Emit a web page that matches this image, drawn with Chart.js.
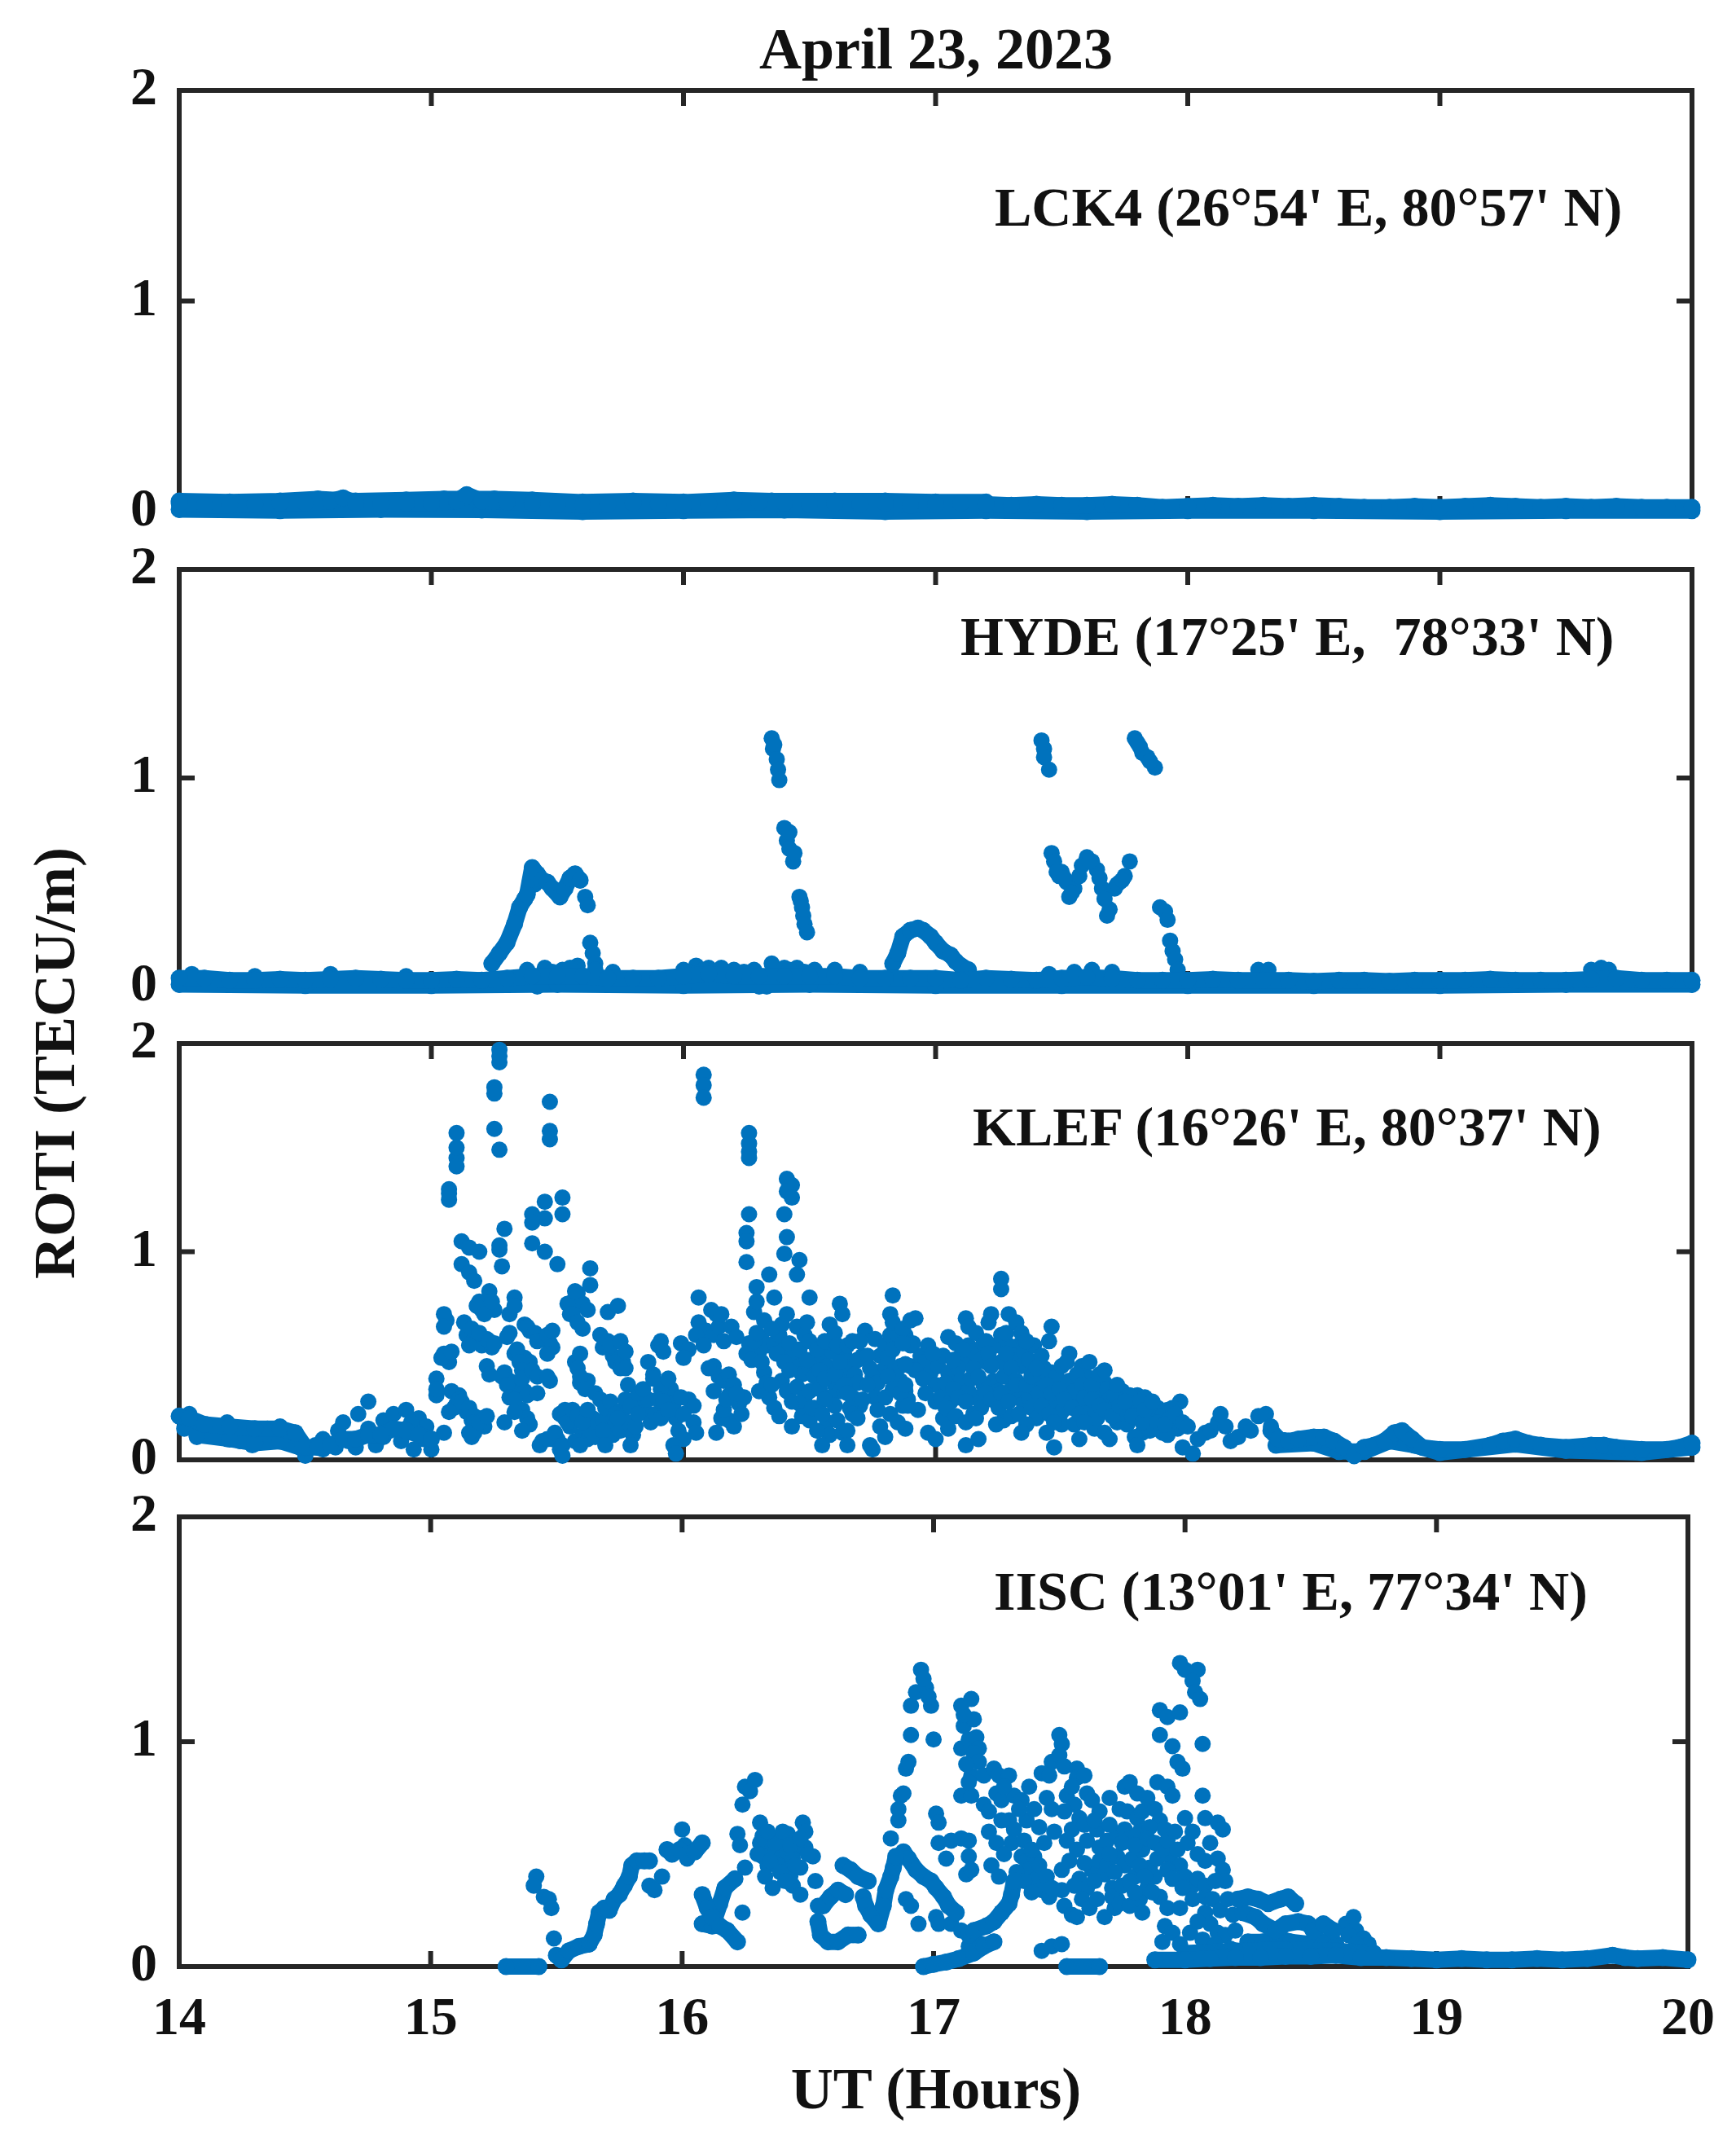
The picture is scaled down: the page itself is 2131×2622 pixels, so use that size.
<!DOCTYPE html>
<html>
<head>
<meta charset="utf-8">
<script src="https://cdn.jsdelivr.net/npm/chart.js@4.4.0/dist/chart.umd.min.js"></script>
<style>
  body { margin: 0; background: #fff; }
  #wrap { position: relative; width: 2131px; height: 2622px; overflow: hidden; }
  #wrap canvas { position: absolute; left: 0; top: 0; }
  .txt { position: absolute; font-family: "Liberation Serif", "Times New Roman", serif; font-weight: bold; color: #111; white-space: pre; }
  #title { left: 649px; top: 24px; width: 1000px; text-align: center; font-size: 72px; line-height: 72px; }
  #xlab { left: 649px; top: 2528px; width: 1000px; text-align: center; font-size: 72px; line-height: 72px; }
  #ylab { left: -333px; top: 1269px; width: 800px; text-align: center; font-size: 72px; line-height: 72px; transform: rotate(-90deg); }
  .st { font-size: 68px; line-height: 68px; }
</style>
</head>
<body>
<div id="wrap">
  <canvas id="p1" width="2131" height="2622"></canvas>
  <canvas id="p2" width="2131" height="2622"></canvas>
  <canvas id="p3" width="2131" height="2622"></canvas>
  <canvas id="p4" width="2131" height="2622"></canvas>
  <div class="txt" id="title">April 23, 2023</div>
  <div class="txt" id="xlab">UT (Hours)</div>
  <div class="txt" id="ylab">ROTI (TECU/m)</div>
  <div class="txt st" style="left:1221px; top:220px;">LCK4 (26°54' E, 80°57' N)</div>
  <div class="txt st" style="left:1179px; top:747px;">HYDE (17°25' E,  78°33' N)</div>
  <div class="txt st" style="left:1194px; top:1349px;">KLEF (16°26' E, 80°37' N)</div>
  <div class="txt st" style="left:1220px; top:1919px;">IISC (13°01' E, 77°34' N)</div>
</div>
<script>
const BLUE = '#0072BD';
const AXIS = '#262626';
const xTicks = [14, 15, 16, 17, 18, 19, 20];
const yTicks = [0, 1, 2];

// ---- LCK4: quiet trace near zero ----
const lckBase = [[14.0,0.04],[14.1,0.03],[14.2,0.03],[14.3,0.035],[14.4,0.04],[14.5,0.04],[14.6,0.05],[14.65,0.065],
  [14.7,0.04],[14.8,0.035],[14.9,0.04],[15.0,0.04],[15.1,0.05],[15.14,0.08],[15.2,0.05],[15.3,0.045],[15.4,0.04],
  [15.5,0.035],[15.6,0.03],[15.7,0.035],[15.8,0.04],[15.9,0.035],[16.0,0.03],[16.1,0.035],[16.2,0.045],[16.3,0.045],
  [16.4,0.04],[16.5,0.035],[16.6,0.04],[16.7,0.035],[16.8,0.04],[16.9,0.03],[17.0,0.035],[17.1,0.04],[17.2,0.035],
  [17.3,0.03],[17.4,0.035],[17.5,0.03],[17.6,0.03],[17.7,0.035],[17.8,0.03],[17.9,0.02],[18.0,0.025],[18.1,0.03],
  [18.2,0.025],[18.3,0.03],[18.4,0.025],[18.5,0.03],[18.6,0.025],[18.7,0.02],[18.8,0.02],[18.9,0.025],[19.0,0.02],
  [19.1,0.025],[19.2,0.03],[19.3,0.025],[19.4,0.02],[19.5,0.025],[19.6,0.02],[19.7,0.025],[19.8,0.02],[19.9,0.02],[20.0,0.02]];
const lckLow = [[14.0,0.01],[14.4,0.005],[14.8,0.01],[15.2,0.008],[15.6,0.0],[16.0,0.005],[16.4,0.008],[16.8,0.0],
  [17.2,0.005],[17.6,0.0],[18.0,0.005],[18.5,0.005],[19.0,0.0],[19.5,0.005],[20.0,0.005]];
const lckHigh = [[14.0,0.05],[14.2,0.045],[14.4,0.05],[14.55,0.06],[14.7,0.05],[14.9,0.055],[15.05,0.06],[15.25,0.06],
  [15.4,0.055],[15.6,0.045],[15.8,0.05],[16.0,0.045],[16.2,0.055],[16.35,0.05],[16.6,0.05],[16.8,0.05],[17.0,0.045],
  [17.2,0.045]];

// ---- HYDE ----
const hydeBase = [[14.0,0.04],[14.1,0.04],[14.2,0.03],[14.3,0.03],[14.4,0.035],[14.5,0.03],[14.6,0.035],[14.7,0.04],
  [14.8,0.035],[14.9,0.03],[15.0,0.03],[15.1,0.035],[15.2,0.03],[15.3,0.04],[15.4,0.05],[15.5,0.05],[15.6,0.05],
  [15.7,0.04],[15.8,0.04],[15.9,0.04],[16.0,0.05],[16.1,0.06],[16.2,0.05],[16.3,0.05],[16.4,0.05],[16.5,0.05],
  [16.6,0.05],[16.7,0.04],[16.8,0.04],[16.9,0.04],[17.0,0.04],[17.1,0.03],[17.2,0.04],[17.3,0.035],[17.4,0.03],
  [17.5,0.04],[17.6,0.045],[17.7,0.04],[17.8,0.03],[17.9,0.03],[18.0,0.03],[18.1,0.035],[18.2,0.03],[18.3,0.03],
  [18.4,0.03],[18.5,0.025],[18.6,0.03],[18.7,0.03],[18.8,0.025],[18.9,0.03],[19.0,0.03],[19.1,0.03],[19.2,0.035],
  [19.3,0.03],[19.4,0.03],[19.5,0.03],[19.6,0.035],[19.7,0.04],[19.8,0.03],[19.9,0.03],[20.0,0.03]];
const hydeLow = [[14.0,0.01],[14.5,0.005],[15.0,0.005],[15.5,0.01],[16.0,0.005],[16.5,0.01],[17.0,0.005],[17.5,0.005],
  [18.0,0.005],[18.5,0.005],[19.0,0.005],[19.5,0.01],[20.0,0.01]];
const hydeUpper = [[14.05,0.06],[14.3,0.05],[14.6,0.06],[14.9,0.05],[15.38,0.08],[15.45,0.09],[15.52,0.08],[15.58,0.1],
  [15.65,0.08],[15.72,0.07],[16.0,0.08],[16.05,0.1],[16.1,0.09],[16.15,0.09],[16.2,0.08],[16.28,0.08],[16.35,0.11],
  [16.4,0.09],[16.45,0.09],[16.52,0.08],[16.6,0.08],[16.7,0.07],[17.45,0.06],[17.55,0.07],[17.62,0.08],[17.7,0.07],
  [18.28,0.08],[18.32,0.08],[19.6,0.08],[19.64,0.09],[19.67,0.08],[16.3,0.0],[16.33,0.0],[15.42,0.0],
  [15.48,0.07],[15.55,0.09],[16.02,0.07],[16.08,0.08],[16.24,0.07],[16.42,0.08],[16.48,0.07]];
const hydeHump1Line = [[15.24,0.11],[15.27,0.16],[15.3,0.21],[15.33,0.3],[15.35,0.38],[15.37,0.42],[15.38,0.44],[15.4,0.57],
  [15.42,0.54],[15.44,0.51],[15.46,0.5],[15.48,0.47],[15.51,0.43],[15.53,0.47],[15.55,0.52],[15.57,0.54],[15.59,0.51]];
const hydeHump1 = [[15.61,0.43],[15.62,0.39],[15.63,0.21],[15.64,0.16],[15.65,0.11],[15.39,0.5],[15.41,0.49]];
const hydeSpike1 = [[16.35,1.19],[16.355,1.14],[16.36,1.16],[16.37,1.09],[16.375,1.04],[16.38,0.99],[16.4,0.76],
  [16.41,0.7],[16.42,0.74],[16.42,0.66],[16.435,0.6],[16.44,0.64],[16.46,0.43],[16.465,0.41],[16.47,0.38],
  [16.475,0.34],[16.48,0.3],[16.49,0.26]];
const hydeHump2 = [[16.83,0.11],[16.85,0.16],[16.87,0.24],[16.9,0.27],[16.93,0.28],[16.95,0.27],[16.98,0.24],[17.0,0.21],
  [17.03,0.17],[17.06,0.15],[17.08,0.12],[17.1,0.1],[17.13,0.08]];
const hydeSpike2 = [[17.42,1.18],[17.43,1.14],[17.43,1.1],[17.45,1.04],[17.46,0.64],[17.47,0.6],[17.49,0.53],[17.5,0.55],
  [17.52,0.5],[17.53,0.43],[17.55,0.47],[17.57,0.53],[17.6,0.62],[17.62,0.6],[17.64,0.56],[17.66,0.47],[17.68,0.34],
  [17.69,0.37],[17.71,0.47],[17.73,0.5],[17.75,0.53],[17.77,0.6],[17.79,1.19],[17.81,1.15],[17.82,1.12],[17.84,1.1],
  [17.87,1.05],[17.89,0.38],[17.91,0.36],[17.92,0.32],[17.93,0.22],[17.94,0.17],[17.95,0.13],[17.96,0.08],
  [17.48,0.55],[17.51,0.52],[17.54,0.45],[17.58,0.58],[17.61,0.6],[17.65,0.52],[17.67,0.42],[17.72,0.49],[17.74,0.51],
  [17.8,1.17],[17.85,1.08]];

// ---- KLEF ----
const klefEarlyTop = [[14.0,0.21],[14.04,0.2],[14.1,0.17],[14.2,0.16],[14.3,0.15],[14.4,0.15],[14.46,0.13],[14.5,0.06],
  [14.55,0.06],[14.6,0.07],[14.65,0.1],[14.7,0.1],[14.75,0.12],[14.8,0.12],[14.85,0.15],[14.9,0.14],[14.95,0.12],[15.0,0.1]];
const klefEarlyLow = [[14.07,0.12],[14.2,0.1],[14.3,0.08],[14.4,0.09],[14.48,0.06]];
const klefEarly = [[14.0,0.21],[14.04,0.22],[14.07,0.18],[14.07,0.11],[14.11,0.17],[14.14,0.15],[14.19,0.18],[14.19,0.1],
  [14.24,0.15],[14.24,0.09],[14.29,0.15],[14.29,0.07],[14.35,0.15],[14.35,0.09],[14.4,0.16],[14.4,0.09],[14.46,0.13],
  [14.49,0.07],[14.5,0.02],[14.54,0.07],[14.57,0.05],[14.57,0.1],[14.62,0.06],[14.63,0.14],[14.65,0.18],[14.67,0.09],
  [14.7,0.06],[14.71,0.22],[14.75,0.28],[14.75,0.15],[14.78,0.07],[14.81,0.19],[14.81,0.11],[14.85,0.22],[14.9,0.24],
  [14.9,0.15],[14.93,0.05],[14.95,0.2],[14.98,0.16],[15.0,0.05],[15.05,0.13],[14.88,0.09],[14.92,0.18],[14.97,0.1],
  [14.02,0.15],[14.13,0.12],[14.32,0.12]];
const klefSpikes = [[15.27,1.97],[15.27,1.91],[15.25,1.79],[15.25,1.76],[15.25,1.59],[15.27,1.49],[15.1,1.57],[15.1,1.45],
  [15.1,1.41],[15.07,1.3],[15.07,1.25],[15.47,1.72],[15.47,1.58],[15.47,1.54],[16.08,1.85],[16.08,1.8],[16.08,1.74],
  [16.26,1.57],[16.26,1.48],[16.26,1.45],[16.41,1.35],[16.43,1.32],[16.41,1.29],[16.43,1.26],[16.4,1.18],[16.26,1.18],
  [16.25,1.09],[16.25,1.05],[16.25,0.95],[16.41,1.07],[16.4,0.99],[16.46,0.96],[16.45,0.89],[16.34,0.89],[15.52,1.26],
  [15.52,1.18],[15.45,1.24],[15.4,1.18],[15.45,1.16],[15.4,1.14],[15.29,1.11],[15.27,1.03],[15.27,1.01],[15.28,0.93],
  [15.4,1.04],[15.45,1.0],[15.5,0.94],[15.12,1.05],[15.15,1.02],[15.12,0.94],[15.15,0.9],[15.17,0.86],[15.19,1.0],
  [15.63,0.92],[15.63,0.84],[15.57,0.81],[17.26,0.87],[17.26,0.82],[15.1,1.5],[15.07,1.28],[15.27,1.94],[16.26,1.52]];
const klefCloudA = [[15.02,0.39],[15.02,0.34],[15.04,0.49],[15.05,0.51],[15.05,0.7],[15.05,0.64],[15.08,0.52],[15.08,0.33],
  [15.07,0.23],[15.09,0.25],[15.11,0.29],[15.13,0.66],[15.16,0.63],[15.15,0.55],[15.12,0.28],[15.15,0.25],[15.17,0.21],
  [15.17,0.18],[15.15,0.13],[15.19,0.18],[15.22,0.21],[15.18,0.74],[15.21,0.7],[15.19,0.61],[15.22,0.45],[15.23,0.41],
  [15.23,0.81],[15.24,0.76],[15.23,0.57],[15.25,0.56],[15.28,0.4],[15.3,0.36],[15.31,0.3],[15.29,0.18],[15.31,0.7],
  [15.31,0.61],[15.3,0.59],[15.33,0.78],[15.33,0.74],[15.34,0.53],[15.35,0.47],[15.36,0.43],[15.36,0.39],[15.33,0.29],
  [15.33,0.23],[15.36,0.14],[15.38,0.64],[15.41,0.61],[15.42,0.57],[15.4,0.43],[15.42,0.4],[15.42,0.32],[15.46,0.6],
  [15.48,0.62],[15.46,0.51],[15.46,0.4],[15.43,0.07],[15.46,0.1],[15.49,0.13],[15.52,0.07],[15.52,0.02],[15.53,0.24],
  [15.54,0.18],[15.54,0.75],[15.55,0.7],[15.56,0.7],[15.58,0.66],[15.6,0.63],[15.59,0.51],[15.58,0.44],[15.59,0.4],
  [15.61,0.34],[15.56,0.24],[15.58,0.21],[15.6,0.18],[15.62,0.24],[15.57,0.09],[15.59,0.07],[15.62,0.72],[15.65,0.32],
  [15.67,0.29],[15.69,0.25],[15.71,0.28],[15.65,0.11],[15.68,0.14],[15.69,0.07],[15.67,0.6],[15.7,0.57],[15.71,0.55],
  [15.7,0.71],[15.74,0.74],[15.73,0.22],[15.74,0.2],[15.75,0.57],[15.77,0.52],[15.77,0.44],[15.79,0.07],[15.77,0.29],
  [15.79,0.26],[15.82,0.32],[15.78,0.36],[15.82,0.22],[15.84,0.34],[15.86,0.47],[15.88,0.41],[15.9,0.55],[15.91,0.57],
  [15.92,0.52],[15.88,0.39],[15.91,0.34],[15.94,0.39],[15.9,0.29],[15.92,0.28],[15.91,0.2],[15.94,0.24],[15.96,0.07],
  [15.97,0.03]];
const klefFillA = [[15.06,0.67],[15.06,0.49],[15.07,0.47],[15.02,0.31],[15.1,0.27],[15.11,0.31],[15.14,0.23],[15.16,0.19],
  [15.2,0.2],[15.21,0.16],[15.16,0.11],[15.17,0.13],[15.14,0.6],[15.17,0.58],[15.2,0.55],[15.22,0.58],[15.24,0.54],
  [15.19,0.76],[15.2,0.72],[15.25,0.72],[15.29,0.42],[15.31,0.38],[15.34,0.35],[15.37,0.33],[15.38,0.31],[15.33,0.51],
  [15.37,0.49],[15.39,0.47],[15.37,0.65],[15.39,0.62],[15.44,0.59],[15.36,0.24],[15.38,0.2],[15.39,0.17],[15.47,0.56],
  [15.48,0.54],[15.47,0.38],[15.44,0.09],[15.48,0.1],[15.5,0.1],[15.51,0.05],[15.51,0.22],[15.53,0.2],[15.55,0.16],
  [15.6,0.12],[15.62,0.1],[15.63,0.14],[15.64,0.2],[15.66,0.17],[15.68,0.19],[15.7,0.15],[15.72,0.12],[15.73,0.17],
  [15.75,0.14],[15.76,0.24],[15.78,0.18],[15.8,0.12],[15.81,0.16],[15.83,0.27],[15.85,0.23],[15.86,0.29],[15.87,0.18],
  [15.89,0.22],[15.93,0.3],[15.95,0.34],[15.96,0.27],[15.97,0.2],[15.98,0.14],[16.0,0.22],[15.99,0.3],[16.0,0.1],
  [15.68,0.54],[15.72,0.5],[15.73,0.47],[15.75,0.44],[15.76,0.47],[15.57,0.47],[15.59,0.37],[15.62,0.38],[15.56,0.76],
  [15.58,0.8],[15.6,0.75]];
const klefCloudB = [[15.99,0.56],[16.02,0.53],[16.0,0.49],[16.02,0.29],[16.04,0.26],[16.04,0.18],[16.05,0.13],[16.06,0.78],
  [16.05,0.6],[16.08,0.55],[16.1,0.44],[16.11,0.72],[16.13,0.7],[16.15,0.7],[16.12,0.33],[16.13,0.13],[16.15,0.2],
  [16.16,0.24],[16.17,0.29],[16.19,0.64],[16.21,0.59],[16.18,0.41],[16.2,0.36],[16.21,0.32],[16.23,0.22],[16.25,0.51],
  [16.27,0.48],[16.28,0.57],[16.29,0.61],[16.28,0.71],[16.29,0.76],[16.29,0.83],[16.31,0.47],[16.3,0.33],[16.33,0.37],
  [16.35,0.36],[16.32,0.67],[16.35,0.63],[16.36,0.78],[16.38,0.21],[16.43,0.16],[16.37,0.51],[16.4,0.47],[16.42,0.56],
  [16.42,0.43],[16.41,0.7],[16.45,0.64],[16.48,0.6],[16.49,0.66],[16.5,0.78],[16.46,0.53],[16.49,0.48],[16.5,0.57],
  [16.53,0.53],[16.56,0.57],[16.58,0.65],[16.6,0.61],[16.61,0.55],[16.62,0.75],[16.63,0.7],[16.54,0.43],[16.56,0.39],
  [16.6,0.41],[16.62,0.47],[16.53,0.14],[16.55,0.07],[16.56,0.29],[16.55,0.22],[16.65,0.55],[16.67,0.57],[16.7,0.57],
  [16.64,0.36],[16.65,0.32],[16.66,0.25],[16.67,0.22],[16.65,0.14],[16.65,0.07],[16.69,0.2],[16.71,0.29],[16.73,0.36],
  [16.74,0.44],[16.74,0.07],[16.75,0.05],[16.83,0.79],[16.82,0.7],[16.83,0.66],[16.87,0.63],[16.9,0.67],[16.81,0.49],
  [16.83,0.53],[16.87,0.56],[16.81,0.4],[16.83,0.34],[16.86,0.32],[16.88,0.36],[16.82,0.22],[16.85,0.18],[16.89,0.26]];
const klefFillB = [[16.06,0.66],[16.09,0.62],[16.12,0.6],[16.14,0.64],[16.16,0.57],[16.12,0.45],[16.14,0.4],[16.16,0.38],
  [16.18,0.31],[16.22,0.27],[16.24,0.3],[16.18,0.19],[16.2,0.16],[16.26,0.56],[16.3,0.52],[16.31,0.58],[16.33,0.55],
  [16.36,0.56],[16.38,0.6],[16.39,0.65],[16.4,0.53],[16.44,0.5],[16.46,0.45],[16.47,0.41],[16.5,0.44],[16.52,0.4],
  [16.53,0.47],[16.55,0.5],[16.57,0.45],[16.59,0.52],[16.6,0.36],[16.62,0.33],[16.63,0.4],[16.64,0.5],[16.66,0.44],
  [16.68,0.41],[16.69,0.37],[16.46,0.27],[16.47,0.21],[16.5,0.19],[16.52,0.25],[16.57,0.18],[16.58,0.12],[16.71,0.5],
  [16.72,0.62],[16.76,0.58],[16.78,0.5],[16.79,0.43],[16.76,0.3],[16.77,0.24],[16.78,0.16],[16.8,0.11],[16.84,0.43],
  [16.86,0.45],[16.88,0.46],[16.9,0.55],[16.32,0.42],[16.34,0.3],[16.36,0.25],[16.39,0.38],[16.41,0.33],[16.43,0.28],
  [16.45,0.35],[16.48,0.3],[16.5,0.33],[16.51,0.25],[16.54,0.34],[16.58,0.3],[16.6,0.26],[16.61,0.19],[16.63,0.13],
  [16.67,0.3],[16.69,0.48],[16.7,0.26],[16.73,0.5],[16.75,0.4],[16.77,0.37],[16.8,0.3],[16.8,0.55],[16.82,0.6],
  [16.85,0.6],[16.86,0.38],[16.87,0.26],[16.88,0.15]];
const klefCloudC = [[16.92,0.68],[16.88,0.6],[16.91,0.56],[16.97,0.55],[16.99,0.51],[16.92,0.43],[16.95,0.39],[16.96,0.32],
  [16.93,0.24],[16.88,0.33],[16.89,0.29],[16.97,0.13],[17.0,0.1],[17.05,0.59],[17.08,0.56],[17.12,0.68],[17.13,0.64],
  [17.11,0.53],[17.07,0.48],[17.04,0.37],[17.07,0.34],[17.09,0.3],[17.12,0.28],[17.15,0.22],[17.04,0.25],[17.08,0.21],
  [17.12,0.18],[17.16,0.2],[17.12,0.07],[17.17,0.1],[17.16,0.61],[17.2,0.57],[17.21,0.51],[17.22,0.45],[17.22,0.7],
  [17.21,0.66],[17.15,0.44],[17.17,0.4],[17.2,0.32],[17.22,0.29],[17.25,0.25],[17.24,0.17],[17.28,0.61],[17.32,0.66],
  [17.34,0.61],[17.36,0.57],[17.28,0.51],[17.3,0.44],[17.32,0.38],[17.26,0.32],[17.29,0.28],[17.32,0.36],[17.36,0.36],
  [17.38,0.4],[17.4,0.44],[17.41,0.32],[17.33,0.22],[17.36,0.17],[17.34,0.13],[17.46,0.64],[17.45,0.57],[17.53,0.51],
  [17.52,0.47],[17.44,0.36],[17.46,0.32],[17.49,0.34],[17.51,0.29],[17.42,0.26],[17.45,0.22],[17.47,0.18],[17.44,0.13],
  [17.47,0.06],[17.54,0.25],[17.57,0.22],[17.59,0.18],[17.57,0.1],[17.59,0.3],[17.62,0.36],[17.65,0.41],[17.67,0.43],
  [17.62,0.29],[17.65,0.26],[17.67,0.24],[17.7,0.21],[17.67,0.13],[17.69,0.1],[17.73,0.26],[17.75,0.28],[17.78,0.21],
  [17.82,0.18],[17.83,0.24],[17.86,0.28],[17.79,0.11],[17.8,0.07],[17.88,0.18],[17.91,0.17],[17.94,0.25],[17.95,0.22],
  [17.98,0.18],[18.0,0.16],[17.98,0.06],[18.02,0.03],[18.04,0.1],[18.07,0.13],[18.09,0.14],[18.12,0.18],[18.13,0.22],
  [18.15,0.16],[18.17,0.09],[18.2,0.11],[18.23,0.16],[18.25,0.14],[18.28,0.21],[18.31,0.22],[18.33,0.16]];
const klefFillC = [[17.01,0.45],[17.03,0.5],[17.05,0.42],[17.09,0.44],[17.1,0.38],[17.13,0.33],[17.14,0.39],[17.18,0.48],
  [17.19,0.36],[17.02,0.3],[17.06,0.28],[17.24,0.55],[17.26,0.47],[17.27,0.4],[17.29,0.55],[17.31,0.5],[17.34,0.45],
  [17.35,0.52],[17.37,0.48],[17.39,0.55],[17.42,0.5],[17.43,0.44],[17.26,0.6],[17.29,0.7],[17.3,0.21],[17.38,0.25],
  [17.4,0.2],[17.48,0.4],[17.5,0.45],[17.5,0.23],[17.53,0.38],[17.55,0.33],[17.56,0.41],[17.58,0.36],[17.6,0.25],
  [17.61,0.47],[17.63,0.32],[17.64,0.2],[17.68,0.34],[17.69,0.29],[17.71,0.31],[17.72,0.36],[17.75,0.22],[17.77,0.31],
  [17.8,0.23],[17.81,0.28],[17.84,0.2],[17.85,0.14],[17.87,0.23],[17.9,0.21],[17.92,0.12],[17.93,0.2]];
const klefFillD = [[16.9,0.45],[16.94,0.5],[16.96,0.47],[16.98,0.42],[17.0,0.36],[17.0,0.28],[17.03,0.2],[17.05,0.15],
  [17.06,0.35],[17.08,0.4],[17.1,0.5],[17.12,0.47],[17.13,0.55],[17.15,0.52],[17.16,0.3],[17.18,0.25],[17.19,0.56],
  [17.2,0.47],[17.23,0.38],[17.25,0.33],[17.27,0.19],[17.28,0.45],[17.3,0.34],[17.33,0.3],[17.33,0.55],[17.35,0.27],
  [17.37,0.3],[17.39,0.35],[17.4,0.27],[17.42,0.39],[17.44,0.3],[17.46,0.42],[17.47,0.27],[17.49,0.22],[17.5,0.17],
  [17.52,0.35],[17.54,0.3],[17.55,0.17],[17.56,0.27],[17.58,0.45],[17.6,0.4],[17.62,0.22],[17.63,0.15],[17.66,0.33],
  [17.67,0.37],[17.7,0.27],[17.72,0.18],[17.74,0.33],[17.76,0.17],[17.78,0.26],[17.8,0.31],[17.82,0.13],[17.83,0.3],
  [17.86,0.2],[17.88,0.25],[17.9,0.13],[17.92,0.24],[17.96,0.15],[17.97,0.28]];
const klefTail = [[18.33,0.14],[18.36,0.1],[18.4,0.09],[18.44,0.1],[18.5,0.11],[18.54,0.11],[18.58,0.09],[18.62,0.06],[18.66,0.02],
  [18.7,0.06],[18.74,0.07],[18.78,0.09],[18.82,0.13],[18.85,0.14],[18.89,0.1],[18.93,0.06],[19.0,0.05],[19.1,0.05],
  [19.2,0.07],[19.25,0.09],[19.3,0.1],[19.35,0.08],[19.4,0.07],[19.5,0.06],[19.6,0.07],[19.65,0.07],[19.7,0.06],
  [19.8,0.05],[19.9,0.05],[19.95,0.06],[20.0,0.08]];
const klefTailLow = [[18.35,0.07],[18.5,0.08],[18.6,0.04],[18.7,0.04],[18.8,0.09],[18.9,0.07],[19.0,0.035],[19.3,0.075],
  [19.5,0.045],[19.8,0.035],[20.0,0.06]];

// ---- IISC ----
const iiscZeroA = [[15.3,0],[15.43,0]];
const iiscZeroB = [[17.53,0],[17.66,0]];
const iiscRise = [[16.96,0.0],[17.0,0.01],[17.05,0.02],[17.1,0.035],[17.16,0.06],[17.2,0.09],[17.24,0.11]];
const iiscArcs = [
  [[15.5,0.05],[15.52,0.03],[15.55,0.07],[15.59,0.09],[15.63,0.1],[15.65,0.14],[15.66,0.19],[15.67,0.24],[15.69,0.26],
   [15.71,0.25],[15.73,0.3],[15.75,0.32],[15.77,0.36],[15.79,0.4],[15.8,0.45],[15.82,0.47],[15.85,0.47],[15.87,0.47]],
  [[15.94,0.52],[15.96,0.5],[15.99,0.52],[16.02,0.5],[16.05,0.51],[16.08,0.55]],
  [[16.08,0.32],[16.1,0.26],[16.12,0.22],[16.15,0.18],[16.18,0.16],[16.22,0.11]],
  [[16.08,0.19],[16.12,0.18],[16.15,0.28],[16.17,0.35],[16.21,0.39]],
  [[16.54,0.2],[16.55,0.14],[16.58,0.11],[16.62,0.11],[16.66,0.14],[16.7,0.14]],
  [[16.72,0.31],[16.73,0.27],[16.75,0.23],[16.78,0.19],[16.8,0.27],[16.81,0.34],[16.83,0.4],[16.84,0.44],[16.85,0.49]],
  [[16.88,0.51],[16.9,0.48],[16.93,0.43],[16.96,0.4],[16.99,0.38],[17.01,0.35],[17.04,0.31],[17.06,0.27],[17.09,0.24]],
  [[16.64,0.45],[16.67,0.43],[16.7,0.4],[16.74,0.38]],
  [[16.56,0.27],[16.59,0.31],[16.62,0.34],[16.65,0.32]],
  [[17.14,0.14],[17.16,0.16],[17.21,0.18],[17.24,0.2],[17.27,0.24],[17.3,0.28],[17.31,0.32],[17.32,0.38]],
  [[18.21,0.3],[18.25,0.31],[18.29,0.3],[18.33,0.28],[18.38,0.3],[18.41,0.31],[18.44,0.28]],
  [[18.23,0.24],[18.28,0.22],[18.31,0.19],[18.36,0.16],[18.4,0.19],[18.45,0.2],[18.49,0.19],[18.51,0.16],[18.55,0.19],[18.59,0.16]],
  [[18.25,0.11],[18.31,0.11],[18.37,0.125],[18.42,0.11],[18.5,0.1],[18.55,0.11],[18.6,0.1]]
];
const iiscEarly = [[15.42,0.4],[15.41,0.36],[15.45,0.31],[15.47,0.3],[15.48,0.26],[15.49,0.125],
  [15.87,0.36],[15.89,0.34],[15.92,0.4],[16.0,0.61],[16.01,0.54],[16.02,0.48],
  [16.24,0.24],[16.22,0.59],[16.23,0.54],[16.25,0.44],[16.24,0.72],[16.25,0.8],[16.27,0.78],[16.29,0.83],
  [16.31,0.64],[16.31,0.55],[16.33,0.56],[16.36,0.53],[16.38,0.57],[16.42,0.59],[16.46,0.53],[16.48,0.64],[16.49,0.6],
  [16.32,0.49],[16.34,0.45],[16.37,0.51],[16.39,0.48],[16.42,0.51],[16.44,0.48],[16.47,0.44],[16.33,0.4],[16.36,0.35],
  [16.41,0.43],[16.44,0.36],[16.47,0.32],[16.49,0.53],[16.52,0.49],[16.53,0.38],[16.54,0.27],[16.68,0.14],
  [16.83,0.57],[16.35,0.58],[16.4,0.55],[16.45,0.56],[16.38,0.45],[16.43,0.4],[16.5,0.5],
  [16.3,0.5],[16.32,0.58],[16.35,0.47],[16.37,0.55],[16.39,0.42],[16.4,0.6],[16.43,0.54],[16.45,0.45],[16.47,0.57],
  [16.34,0.6],[16.41,0.38]];
const iiscMid = [[16.86,0.65],[16.86,0.7],[16.87,0.76],[16.88,0.77],[16.89,0.88],[16.9,0.91],[16.91,1.03],[16.91,1.16],
  [16.93,1.22],[16.95,1.32],[16.97,1.24],[16.99,1.16],[17.0,1.01],[17.01,0.68],[17.02,0.64],
  [16.89,0.3],[16.91,0.27],[16.94,0.19],[17.01,0.22],[17.02,0.19],[17.07,0.19],[17.11,0.16],[17.02,0.55],[17.05,0.48],
  [17.07,0.56],[17.11,0.57],[17.14,0.56],[17.11,1.16],[17.12,1.07],[17.11,0.97],[17.14,1.01],[17.15,0.85],[17.11,0.76],
  [17.15,0.76],[17.13,0.41],[17.15,1.19],[17.16,1.1],[17.17,1.02],[17.18,0.97],[17.16,0.95],[17.18,0.91],[17.2,0.85],
  [17.14,0.49],[17.15,0.43],[17.14,0.82],[17.24,0.88],[17.26,0.85],[17.3,0.85],[17.2,0.72],[17.22,0.69],[17.25,0.77],
  [17.27,0.74],[17.32,0.76],[17.35,0.74],[17.3,0.65],[17.32,0.61],[17.37,0.65],[17.31,0.55],[17.35,0.49],[17.37,0.47],
  [17.4,0.49],[17.38,0.43],[17.41,0.39],[17.43,0.34],[17.46,0.31],[17.19,0.1],[17.14,0.09],[17.43,0.07],[17.47,0.09],
  [17.51,0.1],[16.96,1.28],[16.98,1.2],[17.12,1.12],[17.13,0.9],[17.28,0.8],[17.34,0.7],[17.36,0.56],[17.39,0.52],
  [17.22,0.6],[17.25,0.55],[17.27,0.65],[17.23,0.45],[17.26,0.4],[17.28,0.5],[17.33,0.42],[17.36,0.38],[17.39,0.33],
  [17.42,0.45],[17.45,0.4],[17.47,0.35],[17.44,0.55],[17.48,0.6],[17.47,0.7],[17.45,0.75],[17.4,0.7],[17.38,0.8],
  [17.42,0.62]];
const iiscLate = [[17.5,1.03],[17.51,0.99],[17.47,0.91],[17.5,0.94],[17.43,0.86],[17.46,0.85],[17.52,0.89],[17.57,0.88],
  [17.57,0.84],[17.53,0.76],[17.56,0.72],[17.61,0.77],[17.63,0.74],[17.66,0.69],[17.65,0.61],[17.52,0.69],[17.55,0.61],
  [17.58,0.66],[17.53,0.56],[17.57,0.52],[17.61,0.56],[17.66,0.53],[17.69,0.56],[17.73,0.59],[17.51,0.43],[17.51,0.34],
  [17.52,0.27],[17.55,0.23],[17.57,0.22],[17.58,0.39],[17.61,0.35],[17.63,0.43],[17.66,0.47],[17.68,0.41],[17.71,0.35],
  [17.73,0.3],[17.72,0.26],[17.76,0.8],[17.78,0.82],[17.81,0.77],[17.74,0.7],[17.77,0.69],[17.81,0.66],[17.83,0.69],
  [17.88,0.7],[17.9,0.65],[17.76,0.61],[17.78,0.57],[17.82,0.6],[17.86,0.62],[17.92,0.61],[17.73,0.49],[17.76,0.45],
  [17.79,0.48],[17.83,0.52],[17.86,0.44],[17.89,0.48],[17.71,0.31],[17.74,0.28],[17.78,0.27],[17.82,0.3],[17.83,0.24],
  [17.89,0.82],[17.93,0.8],[17.95,0.76],[17.9,1.14],[17.93,1.11],[17.98,1.13],[17.9,1.03],[17.95,0.98],[17.97,0.91],
  [17.99,0.88],[17.98,1.35],[18.0,1.32],[18.05,1.32],[18.03,1.27],[18.04,1.22],[18.06,1.19],[18.07,0.99],[18.07,0.76],
  [18.0,0.66],[18.08,0.66],[18.13,0.64],[18.15,0.61],[17.94,0.49],[17.98,0.45],[18.0,0.4],[18.03,0.36],[18.05,0.39],
  [18.08,0.36],[17.93,0.43],[17.95,0.39],[17.99,0.35],[17.9,0.31],[17.93,0.26],[17.92,0.18],[17.91,0.11],[17.98,0.26],
  [18.03,0.3],[18.08,0.31],[18.08,0.47],[18.13,0.48],[18.15,0.43],[18.16,0.38],[18.08,0.24],[18.1,0.19],[18.13,0.15],
  [18.16,0.14],[18.2,0.16],[18.64,0.19],[18.67,0.22],[18.68,0.16],[18.71,0.125],[18.73,0.1],[18.65,0.14],[18.68,0.1],
  [17.6,0.63],[17.64,0.65],[17.7,0.63],[17.75,0.55],[17.8,0.54],[17.85,0.57],[17.6,0.46],[17.64,0.38],[17.69,0.45],
  [17.8,0.4],[17.85,0.35],[17.88,0.4],[17.55,0.8],[17.6,0.85],[17.7,0.75],[17.85,0.75],
  [17.54,0.47],[17.56,0.36],[17.59,0.3],[17.62,0.26],[17.65,0.3],[17.68,0.22],[17.7,0.5],[17.72,0.42],[17.75,0.36],
  [17.78,0.38],[17.8,0.33],[17.82,0.45],[17.84,0.4],[17.87,0.33],[17.88,0.55],[17.91,0.52],[17.93,0.56],[17.96,0.6],
  [17.97,0.52],[18.01,0.55],[18.03,0.6],[18.05,0.5],[18.1,0.55],[18.12,0.38],[18.11,0.3],[18.14,0.25],[18.17,0.3],
  [18.19,0.23],[17.95,0.15],[17.98,0.1],[18.02,0.15],[18.05,0.2],[18.07,0.12],[18.12,0.1],[18.18,0.08]];
const iiscBase = [[17.88,0.03],[18.0,0.03],[18.1,0.035],[18.2,0.04],[18.3,0.04],[18.4,0.045],[18.5,0.045],[18.6,0.05],
  [18.7,0.04],[18.8,0.04],[18.9,0.035],[19.0,0.03],[19.1,0.035],[19.2,0.03],[19.3,0.03],[19.4,0.035],[19.5,0.03],
  [19.6,0.035],[19.7,0.05],[19.75,0.04],[19.8,0.035],[19.9,0.04],[20.0,0.03]];
const iiscBaseHigh = [[18.0,0.06],[18.2,0.07],[18.4,0.075],[18.6,0.07],[18.75,0.06]];

const panels = [
  { id: 'p1', top: 111, bottom: 628, showX: false, dots: [], lines: [lckBase, lckLow, lckHigh] },
  { id: 'p2', top: 699, bottom: 1211, showX: false,
    dots: [hydeUpper, hydeHump1, hydeSpike1, hydeHump2, hydeSpike2], lines: [hydeBase, hydeLow, hydeHump1Line, hydeHump2] },
  { id: 'p3', top: 1281, bottom: 1792, showX: false,
    dots: [klefEarly, klefSpikes, klefCloudA, klefFillA, klefCloudB, klefFillB, klefCloudC, klefFillC, klefFillD],
    lines: [klefEarlyTop, klefEarlyLow, klefTail, klefTailLow] },
  { id: 'p4', top: 1862, bottom: 2414, showX: true,
    dots: [iiscEarly, iiscMid, iiscLate], lines: [iiscZeroA, iiscZeroB, iiscRise, iiscBase, iiscBaseHigh, ...iiscArcs] }
];

const tickFont = { family: 'Liberation Serif', weight: 'bold', size: 66 };

const framePlugin = {
  id: 'frame',
  beforeDatasetsDraw(chart) {
    const { ctx, chartArea: a, scales: { x, y } } = chart;
    ctx.save();
    ctx.strokeStyle = AXIS;
    ctx.lineWidth = 6;
    ctx.strokeRect(a.left, a.top, a.right - a.left, a.bottom - a.top);
    ctx.beginPath();
    xTicks.forEach(t => {
      const px = x.getPixelForValue(t);
      ctx.moveTo(px, a.bottom); ctx.lineTo(px, a.bottom - 19);
      ctx.moveTo(px, a.top); ctx.lineTo(px, a.top + 19);
    });
    yTicks.forEach(v => {
      const py = y.getPixelForValue(v);
      ctx.moveTo(a.left, py); ctx.lineTo(a.left + 19, py);
      ctx.moveTo(a.right, py); ctx.lineTo(a.right - 19, py);
    });
    ctx.stroke();
    ctx.restore();
  }
};

const toXY = pts => pts.map(p => ({ x: p[0], y: p[1] }));

panels.forEach(s => {
  const xh = s.showX ? 110 : 0;
  const datasets = [];
  s.lines.forEach(l => datasets.push({
    type: 'line', data: toXY(l), borderColor: BLUE, borderWidth: 20, fill: false,
    pointRadius: 10.5, pointBorderWidth: 0, pointBackgroundColor: BLUE,
    borderCapStyle: 'round', borderJoinStyle: 'round', tension: 0, clip: false
  }));
  s.dots.forEach(d => datasets.push({
    type: 'scatter', data: toXY(d), showLine: false, backgroundColor: BLUE,
    pointBackgroundColor: BLUE, borderWidth: 0, pointBorderWidth: 0, pointRadius: 10, clip: false
  }));

  new Chart(document.getElementById(s.id), {
    type: 'scatter',
    data: { datasets },
    plugins: [framePlugin],
    options: {
      responsive: false,
      animation: false,
      events: [],
      layout: { padding: { left: 0, right: 54, top: s.top, bottom: 2622 - s.bottom - xh } },
      plugins: { legend: { display: false }, tooltip: { enabled: false } },
      scales: {
        x: {
          type: 'linear', min: 14, max: 20,
          afterBuildTicks: sc => { sc.ticks = xTicks.map(v => ({ value: v })); },
          afterFit: sc => { sc.height = xh; },
          grid: { display: false, drawTicks: false },
          border: { display: false },
          ticks: { display: s.showX, font: tickFont, color: '#111', padding: 26, maxRotation: 0 }
        },
        y: {
          type: 'linear', min: 0, max: 2,
          afterBuildTicks: sc => { sc.ticks = yTicks.map(v => ({ value: v })); },
          afterFit: sc => { sc.width = 220; },
          grid: { display: false, drawTicks: false },
          border: { display: false },
          ticks: { font: tickFont, color: '#111', padding: 27 }
        }
      }
    }
  });
});
</script>
</body>
</html>
